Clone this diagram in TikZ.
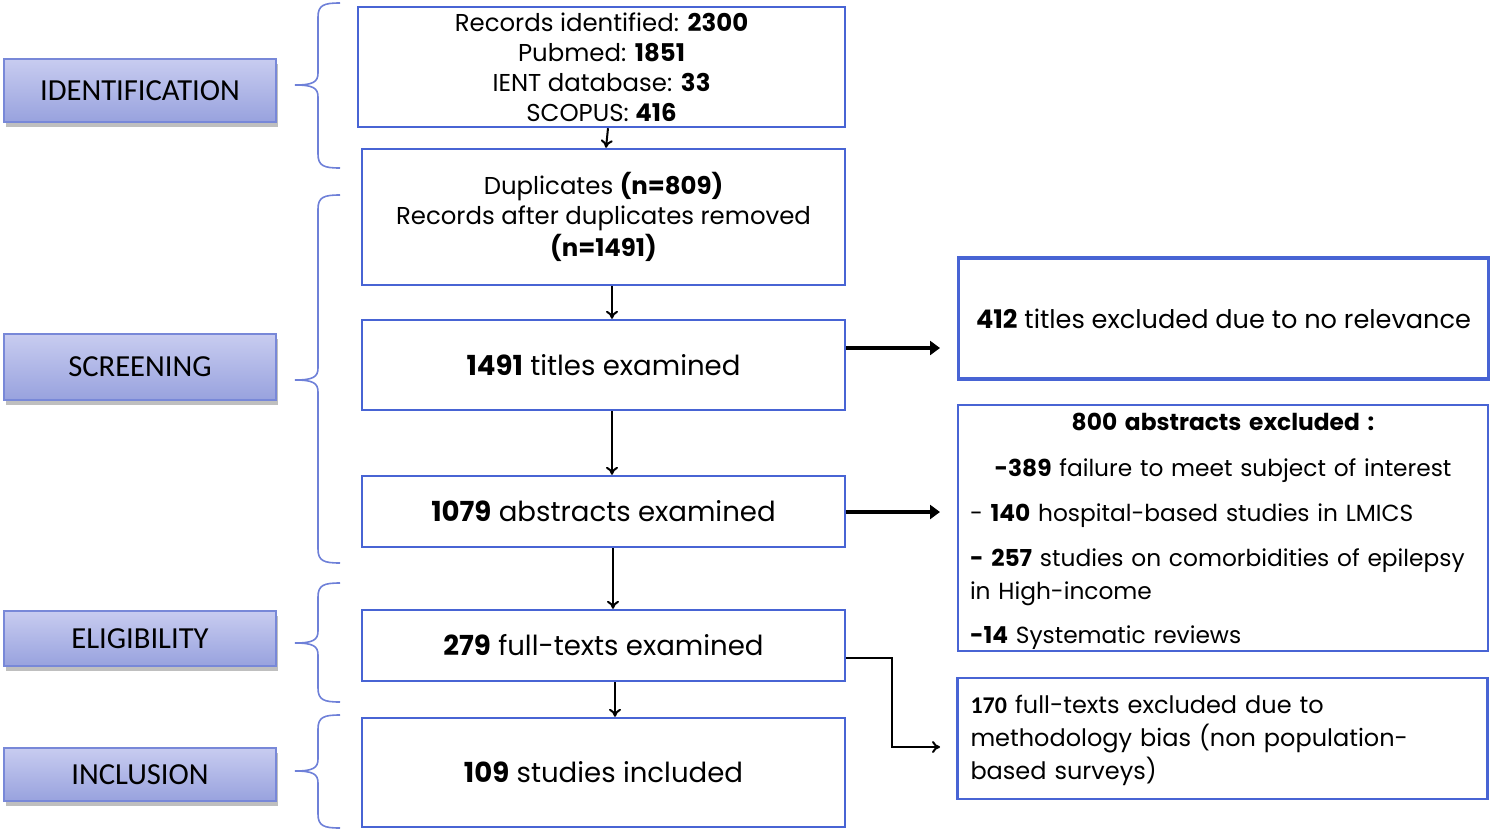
\documentclass[tikz,border=0pt]{standalone}
\usepackage{fontspec}
\setmainfont{Poppins}
\newfontfamily\labfont{Carlito}
\usetikzlibrary{arrows.meta,shadows}
\definecolor{boxblue}{RGB}{72,100,212}
\definecolor{labtop}{RGB}{200,204,240}
\definecolor{labbot}{RGB}{152,162,222}
\definecolor{labline}{RGB}{120,136,216}
\definecolor{bracecol}{RGB}{110,128,216}
\tikzset{
  mainbox/.style={draw=boxblue, line width=1.2pt, inner sep=0pt, align=center, font=\fontsize{13.8}{16}\selectfont},
  topbox/.style={mainbox, font=\fontsize{12.2}{15}\selectfont},
  sidebox/.style={draw=boxblue, line width=1.2pt, minimum width=265pt, inner xsep=6pt, inner ysep=0pt},
  sidetext/.style={inner xsep=0pt, inner ysep=0pt, align=left, font=\fontsize{11.65}{16.5}\selectfont},
  stagebox/.style={draw=labline, line width=0.8pt, top color=labtop, bottom color=labbot,
    minimum width=136pt, font=\labfont\fontsize{15.3}{18}\selectfont,
    drop shadow={shadow xshift=1pt, shadow yshift=-2.5pt, opacity=0.25, fill=black}},
  thinarr/.style={line width=1pt, -{To[length=4pt,width=6pt]}},
  thickarr/.style={line width=1.8pt, -{Triangle[length=5pt,width=7pt]}},
  bracestyle/.style={draw=bracecol, line width=0.8pt}
}
\newcommand{\stagebrace}[3]{%
  \draw[bracestyle] (340,#1) .. controls (324,#1) and (318,#1+2) .. (318,#1+14)
    -- (318,#3-12) .. controls (318,#3-3) and (313,#3) .. (295,#3)
    .. controls (313,#3) and (318,#3+3) .. (318,#3+12)
    -- (318,#2-14) .. controls (318,#2-2) and (324,#2) .. (340,#2);}
\begin{document}
\begin{tikzpicture}[x=0.5pt,y=-0.5pt]
\useasboundingbox (0,0) rectangle (1492,830);

% stage labels
\node[stagebox, minimum height=31.5pt] (sid) at (140,90.5) {IDENTIFICATION};
\node[stagebox, minimum height=33pt] (ssc) at (140,367) {SCREENING};
\node[stagebox, minimum height=27.5pt] (sel) at (140,638.5) {ELIGIBILITY};
\node[stagebox, minimum height=26.5pt] (sin) at (140,774.5) {INCLUSION};

% braces
\stagebrace{3}{168}{85}
\stagebrace{195}{563}{380}
\stagebrace{583}{702}{643}
\stagebrace{715}{828}{771}

% main flow
\node[topbox, minimum width=243.5pt, minimum height=60pt] (b1) at (601.5,67)
  {Records identified: \textbf{2300}\\Pubmed: \textbf{1851}\\IENT database: \textbf{33}\\SCOPUS: \textbf{416}};
\node[topbox, minimum width=241.5pt, minimum height=68pt] (b2) at (603.5,217)
  {Duplicates \textbf{(n=809)}\\Records after duplicates removed\\[1pt]\textbf{(n=1491)}};
\node[mainbox, minimum width=241.5pt, minimum height=45pt] (b3) at (603.5,365)
  {\textbf{1491} titles examined};
\node[mainbox, minimum width=241.5pt, minimum height=35.5pt] (b4) at (603.5,511.5)
  {\textbf{1079} abstracts examined};
\node[mainbox, minimum width=241.5pt, minimum height=35.5pt] (b5) at (603.5,645.5)
  {\textbf{279} full-texts examined};
\node[mainbox, minimum width=241.5pt, minimum height=54.5pt] (b6) at (603.5,772.5)
  {\textbf{109} studies included};

% side boxes
\node[sidebox, line width=1.6pt, minimum height=60.5pt, font=\fontsize{12.8}{15}\selectfont] (r1) at (1223.5,318.5)
  {\textbf{412} titles excluded due to no relevance};
\node[sidebox, minimum height=123pt] (r2) at (1223,528) {};
\node[sidetext, text width=253pt] (r2t) at ([yshift=-1.5pt]r2.center)
  {\makebox[\linewidth][c]{\textbf{800 abstracts excluded :}}\\[6.5pt]
   \makebox[\linewidth][c]{\textbf{-389} failure to meet subject of interest}\\[6pt]
   - \textbf{140} hospital-based studies in LMICS\\[6pt]
   \textbf{- 257} studies on comorbidities of epilepsy\\
   in High-income\\[5.5pt]
   \textbf{-14} Systematic reviews};
\node[sidebox, minimum height=60.5pt] (r3) at (1222.5,738.5) {};
\node[sidetext, text width=252pt, font=\fontsize{12}{16.5}\selectfont] (r3t) at ([yshift=-1pt]r3.center)
  {{\labfont\bfseries 170} full-texts excluded due to\\methodology bias (non population-\\based surveys)};

% vertical arrows
\draw[thinarr] ([xshift=3.25pt]b1.south) -- ([xshift=1.25pt]b2.north);
\draw[thinarr] ([xshift=4.25pt]b2.south) -- ([xshift=4.25pt]b3.north);
\draw[thinarr] ([xshift=4.25pt]b3.south) -- ([xshift=4.25pt]b4.north);
\draw[thinarr] ([xshift=4.75pt]b4.south) -- ([xshift=4.75pt]b5.north);
\draw[thinarr] ([xshift=5.75pt]b5.south) -- ([xshift=5.75pt]b6.north);

% side arrows
\coordinate (e1) at (940,348);
\coordinate (e2) at (940,512);
\coordinate (e3) at (940,747);
\draw[thickarr] ([yshift=8.5pt]b3.east) -- (e1);
\draw[thickarr] (b4.east |- e2) -- (e2);
\draw[line width=1pt, -{To[length=4pt,width=6pt]}] ([yshift=-6.25pt]b5.east) -| ([xshift=-24pt]e3) -- (e3);
\end{tikzpicture}
\end{document}
